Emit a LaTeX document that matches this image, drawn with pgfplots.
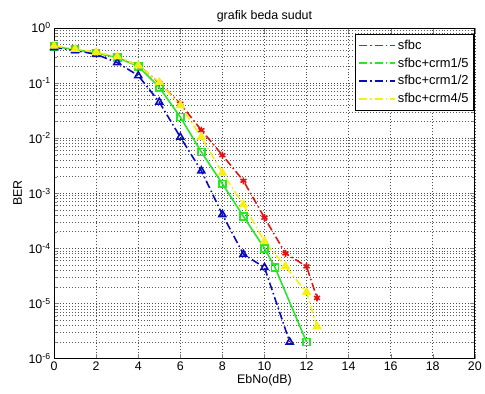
\documentclass[border=0pt]{standalone}
\usepackage{pgfplots}
\pgfplotsset{compat=1.18}
\usepackage{fontspec}
\setmainfont{Liberation Sans}
\usetikzlibrary{plotmarks}
\definecolor{mred}{RGB}{225,20,20}
\definecolor{mgreen}{RGB}{40,230,40}
\definecolor{mblue}{RGB}{10,10,190}
\definecolor{myellow}{RGB}{245,240,20}
\begin{document}
\begin{tikzpicture}[x=1pt,y=1pt]
\begin{axis}[
  scale only axis,
  width=423.5pt, height=333pt,
  xmin=0, xmax=20, ymin=1e-6, ymax=1,
  ymode=log,
  xtick={0,2,...,20},
  ytick={1e-6,1e-5,1e-4,1e-3,1e-2,1e-1,1},
  yticklabels={10\textsuperscript{-6},10\textsuperscript{-5},10\textsuperscript{-4},10\textsuperscript{-3},10\textsuperscript{-2},10\textsuperscript{-1},10\textsuperscript{0}},
  /pgf/number format/assume math mode=true,
  xticklabel style={font=\fontsize{12.5}{14}\selectfont},
  yticklabel style={font=\fontsize{12.5}{14}\selectfont},
  tick align=inside,
  major tick length=5pt, minor tick length=3pt,
  xmajorgrids, ymajorgrids, yminorgrids,
  major grid style={dash pattern=on 1pt off 2pt, black!70, line width=0.5pt},
  minor grid style={dash pattern=on 1pt off 2pt, black!65, line width=0.5pt},
  axis line style={black, line width=0.6pt},
  title={grafik beda sudut},
  title style={font=\fontsize{12.5}{14}\selectfont, yshift=-4pt},
  xlabel={EbNo(dB)},
  ylabel={BER},
  xlabel style={font=\fontsize{12.5}{14}\selectfont, yshift=3pt},
  ylabel style={font=\fontsize{12.5}{14}\selectfont, yshift=0pt},
  legend style={at={(rel axis cs:1,1)}, anchor=north east, xshift=-1pt, yshift=-6pt,
    font=\fontsize{13}{15}\selectfont, draw=black, line width=0.6pt,
    row sep=3pt, inner xsep=3pt, inner ysep=4pt},
  legend cell align=left,
  legend image code/.code={\draw[dash pattern=on 8pt off 3pt on 1.5pt off 3pt, line width=1.6pt] (0pt,0pt) -- (36pt,0pt);},
  mark options={solid},
]
\addplot[mred, line width=1.6pt, dash pattern=on 8pt off 3pt on 1.5pt off 3pt, mark=asterisk, mark size=3.5pt] coordinates {
(0,0.47) (1,0.40) (2,0.355) (3,0.29) (4,0.21) (5,0.10) (6,0.042) (7,0.0139) (8,4.9e-3) (9,1.68e-3) (10,3.6e-4) (11,8.1e-5) (12,4.7e-5) (12.5,1.26e-5)};
\addlegendentry{sfbc}
\addplot[mgreen, line width=1.6pt, solid, mark=square, mark size=3.5pt] coordinates {
(0,0.46) (1,0.40) (2,0.35) (3,0.29) (4,0.2) (5,0.083) (6,0.024) (7,5.6e-3) (8,1.48e-3) (9,3.8e-4) (10,1e-4) (10.5,4.5e-5) (12,2.0e-6)};
\addlegendentry{sfbc+crm1/5}
\addplot[mblue, line width=1.6pt, dash pattern=on 8pt off 3pt on 1.5pt off 3pt, mark=triangle, mark size=4pt] coordinates {
(0,0.44) (1,0.39) (2,0.33) (3,0.234) (4,0.136) (5,0.045) (6,0.0104) (7,2.55e-3) (8,4.1e-4) (9,7.8e-5) (10,4.5e-5) (11.2,2.0e-6)};
\addlegendentry{sfbc+crm1/2}
\addplot[myellow, line width=1.6pt, dash pattern=on 8pt off 3pt on 1.5pt off 3pt, mark=triangle*, mark size=4pt] coordinates {
(0,0.47) (1,0.41) (2,0.36) (3,0.30) (4,0.207) (5,0.102) (6,0.039) (7,0.0104) (8,2.34e-3) (9,6.2e-4) (10,1.34e-4) (11,4.7e-5) (12,1.6e-5) (12.5,3.8e-6)};
\addlegendentry{sfbc+crm4/5}
\end{axis}
\path (current axis.south west) ++(-54.5pt,-35pt) (current axis.north east) ++(7pt,28pt);
\end{tikzpicture}
\end{document}
